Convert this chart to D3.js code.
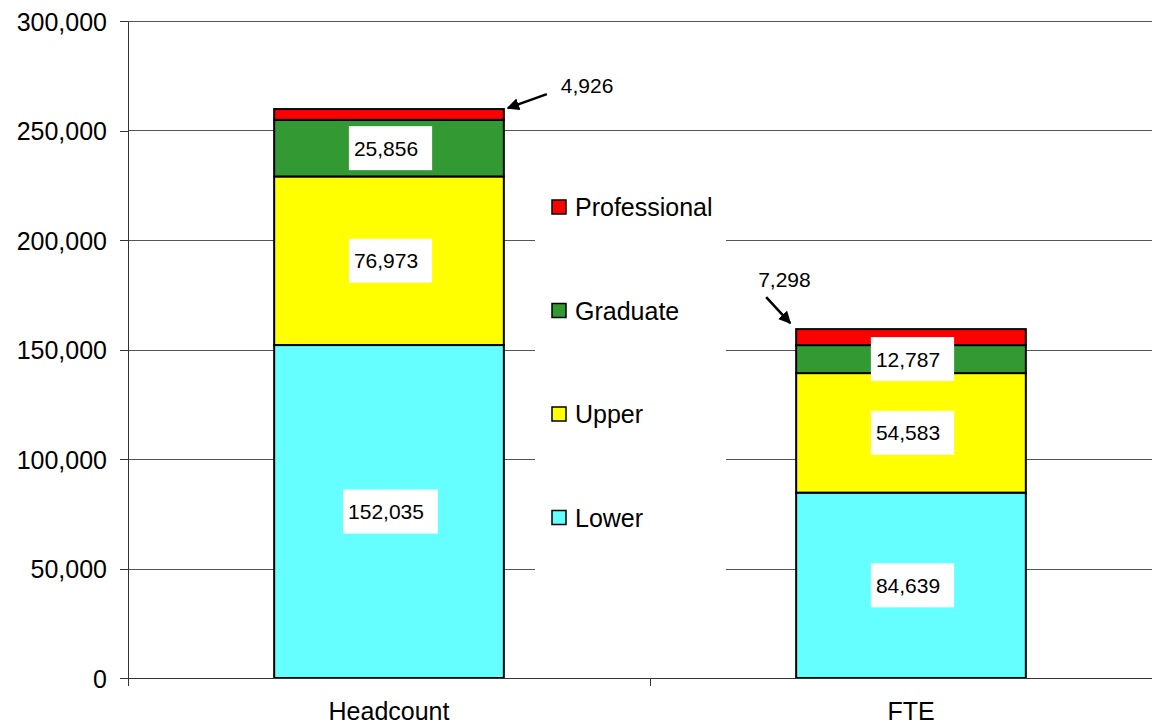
<!DOCTYPE html>
<meta charset="utf-8">
<style>
    body { margin: 0; background: #fff; }
    svg text { font-family: "Liberation Sans", Arial, sans-serif; fill: #000; }
    .grid line { stroke: #555; stroke-width: 1; shape-rendering: crispEdges; }
    .axis path, .axis line { fill: none; stroke: #333; shape-rendering: crispEdges; }
</style>
<body>
<script src="https://cdn.jsdelivr.net/npm/d3@7"></script>
<script>

    var categories = ["Headcount", "FTE"];
    var levels = ["Lower", "Upper", "Graduate", "Professional"];
    var lowerValues = [152035, 84639];
    var upperValues = [76973, 54583];
    var graduateValues = [25856, 12787];
    var professionalValues = [4926, 7298];
    var yTicks = [0, 50000, 100000, 150000, 200000, 250000, 300000];
    var colors = ["#66FFFF", "#FFFF00", "#339933", "#FF0000"];

    var width = 1152, height = 726;
    var plotLeft = 128, plotTop = 21, plotBottom = 678;

    var rows = categories.map(function (c, i) {
        return { cat: c, Lower: lowerValues[i], Upper: upperValues[i],
                 Graduate: graduateValues[i], Professional: professionalValues[i] };
    });
    var stacked = d3.stack().keys(levels)(rows);

    var x = d3.scaleBand().domain(categories).range([plotLeft, 1172])
        .paddingInner(0.56).paddingOuter(0.28);
    var y = d3.scaleLinear().domain([0, 300000]).range([plotBottom, plotTop]);
    var fmt = d3.format(",");

    var svg = d3.select("body").append("svg")
        .attr("width", width).attr("height", height);

    // gridlines
    svg.append("g").attr("class", "grid")
        .selectAll("line").data(yTicks.slice(1)).enter().append("line")
        .attr("x1", plotLeft).attr("x2", width)
        .attr("y1", function (d) { return Math.round(y(d)) + 0.5; })
        .attr("y2", function (d) { return Math.round(y(d)) + 0.5; });

    // legend background hides the gridlines behind it
    svg.append("rect").attr("x", 535).attr("y", 180).attr("width", 191).attr("height", 397)
        .attr("fill", "#fff");

    // bars
    svg.selectAll(".layer").data(stacked).enter().append("g")
        .attr("class", "layer")
        .attr("fill", function (d, i) { return colors[i]; })
        .selectAll("rect").data(function (d) { return d; }).enter().append("rect")
        .attr("x", function (d) { return x(d.data.cat); })
        .attr("width", x.bandwidth())
        .attr("y", function (d) { return y(d[1]); })
        .attr("height", function (d) { return y(d[0]) - y(d[1]); })
        .attr("stroke", "#000").attr("stroke-width", 2);

    // y axis
    var yAxis = svg.append("g").attr("class", "axis")
        .attr("transform", "translate(" + plotLeft + ",0)")
        .call(d3.axisLeft(y).tickValues(yTicks).tickFormat(fmt).tickSize(8).tickSizeOuter(0).tickPadding(13));
    yAxis.selectAll("text").style("font-size", "25px").attr("dy", "0.36em");

    // x axis
    var xAxis = svg.append("g").attr("class", "axis")
        .attr("transform", "translate(0," + plotBottom + ")");
    xAxis.append("line").attr("x1", plotLeft).attr("x2", width).attr("y1", 0.5).attr("y2", 0.5);
    xAxis.selectAll(".tk").data([plotLeft, plotLeft + x.step()])
        .enter().append("line").attr("class", "tk")
        .attr("x1", function (d) { return Math.round(d) + 0.5; })
        .attr("x2", function (d) { return Math.round(d) + 0.5; })
        .attr("y1", 0).attr("y2", 8);
    xAxis.selectAll(".cat").data(categories).enter().append("text")
        .attr("class", "cat")
        .attr("x", function (d) { return x(d) + x.bandwidth() / 2; })
        .attr("y", 42).attr("text-anchor", "middle")
        .style("font-size", "25px").text(function (d) { return d; });

    // value labels in white boxes (not for the thin Professional segment)
    stacked.slice(0, 3).forEach(function (layer) {
        layer.forEach(function (d) {
            var cx = x(d.data.cat) + x.bandwidth() / 2 - 3;
            var cy = (y(d[0]) + y(d[1])) / 2;
            var g = svg.append("g");
            var box = g.append("rect").attr("fill", "#fff");
            var t = g.append("text").attr("x", cx).attr("y", cy).attr("dy", "0.36em")
                .attr("text-anchor", "middle").style("font-size", "21px")
                .text(fmt(d[1] - d[0]));
            var w = t.node().getComputedTextLength();
            box.attr("x", cx - w / 2 - 5).attr("y", cy - 22).attr("width", w + 19).attr("height", 44);
        });
    });

    // arrow annotations for Professional
    svg.append("defs").append("marker").attr("id", "ah")
        .attr("viewBox", "0 0 10 10").attr("refX", 9).attr("refY", 5)
        .attr("markerWidth", 5).attr("markerHeight", 5).attr("orient", "auto")
        .append("path").attr("d", "M0,0L10,5L0,10z").attr("fill", "#000");

    var pro = stacked[3];
    var hx = x("Headcount") + x.bandwidth(), hy = y(pro[0][1]);
    svg.append("line").attr("x1", hx + 43).attr("y1", hy - 15).attr("x2", hx + 4).attr("y2", hy - 1)
        .attr("stroke", "#000").attr("stroke-width", 2.5).attr("marker-end", "url(#ah)");
    svg.append("text").attr("x", hx + 57).attr("y", hy - 16).style("font-size", "21px")
        .text(fmt(pro[0][1] - pro[0][0]));

    var fx = x("FTE"), fy = y(pro[1][1]);
    svg.append("line").attr("x1", fx - 30).attr("y1", fy - 32).attr("x2", fx - 6).attr("y2", fy - 6)
        .attr("stroke", "#000").attr("stroke-width", 2.5).attr("marker-end", "url(#ah)");
    svg.append("text").attr("x", fx - 38).attr("y", fy - 42).attr("text-anchor", "start")
        .style("font-size", "21px").text(fmt(pro[1][1] - pro[1][0]));

    // legend
    var legend = svg.append("g").attr("transform", "translate(552,207)");
    levels.slice().reverse().forEach(function (name, i) {
        var g = legend.append("g").attr("transform", "translate(0," + (i * 103.5) + ")");
        g.append("rect").attr("x", 0).attr("y", -7).attr("width", 14).attr("height", 14)
            .attr("fill", colors[levels.indexOf(name)]).attr("stroke", "#000").attr("stroke-width", 1.5);
        g.append("text").attr("x", 23).attr("y", 0).attr("dy", "0.36em")
            .style("font-size", "25px").text(name);
    });

</script>
</body>
